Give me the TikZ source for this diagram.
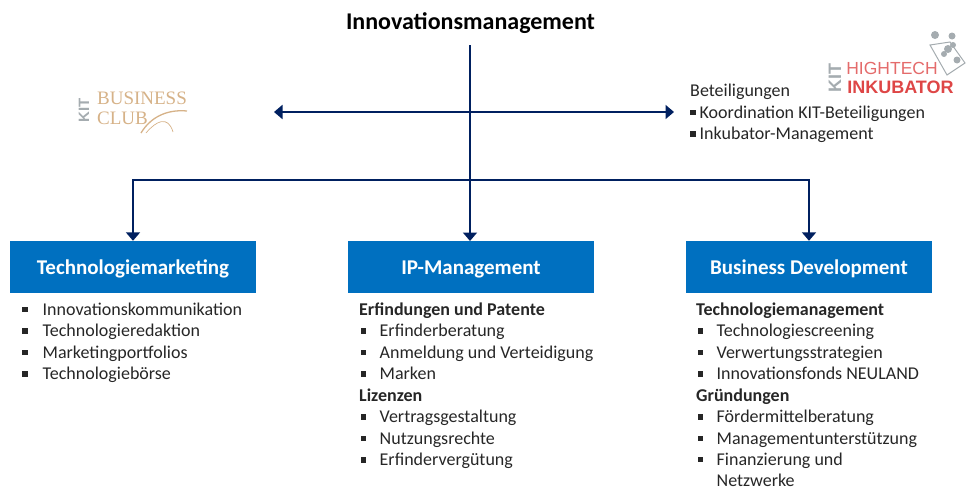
\documentclass[tikz,border=0pt]{standalone}
\usepackage{fontspec}
\setmainfont{Carlito}
\newfontfamily\logoserif{Liberation Serif}
\newfontfamily\logosans{Liberation Sans}
\usetikzlibrary{positioning, arrows.meta}
\definecolor{kitblue}{RGB}{0,112,192}
\definecolor{linkblue}{RGB}{0,32,96}
\definecolor{clubtan}{RGB}{214,178,136}
\definecolor{logogray}{RGB}{165,172,176}
\definecolor{logored}{RGB}{222,70,70}
\newcommand{\itm}{\makebox[20.5pt][l]{\rule[3pt]{5.5pt}{5.5pt}}}
\newcommand{\sub}{\hspace*{1.5pt}\makebox[19pt][l]{\rule[3pt]{5.5pt}{5.5pt}}}
\newcommand{\tight}{\fontsize{18}{21.45}\selectfont}
\tikzset{
	x=1pt, y=-1pt,
	head/.style={fill=kitblue, text=white, minimum width=246pt, minimum height=52pt, inner sep=0pt, text height=15pt, text depth=1pt, font=\fontsize{21}{25}\selectfont\bfseries},
	items/.style={align=left, anchor=north west, inner sep=0pt, text=black!85, font=\tight},
	link/.style={draw=linkblue, line width=1.8pt},
	tip/.style={-{Triangle[length=8.5pt,width=14pt]}}
}
\begin{document}
\begin{tikzpicture}
		\useasboundingbox (0,0) rectangle (966,488);
		\node[font=\fontsize{24}{28}\selectfont\bfseries] (title) at (470.5,23.5) {Innovationsmanagement};
		\node[head] (tm) at (133,267) {Technologiemarketing};
		\node[head] (ip) at (471,267) {IP-Management};
		\node[head] (bd) at (809,267) {Business Development};
		% lists under the boxes
		\node[items] (tmlist) at (22,302.5) {\itm Innovationskommunikation\\\itm Technologieredaktion\\\itm Marketingportfolios\\\itm Technologiebörse};
		\node[items] (iplist) at (359,302.5) {\textbf{Erfindungen und Patente}\\\sub Erfinderberatung\\\sub Anmeldung und Verteidigung\\\sub Marken\\\textbf{Lizenzen}\\\sub Vertragsgestaltung\\\sub Nutzungsrechte\\\sub Erfindervergütung};
		\node[items] (bdlist) at (696,302.5) {\textbf{Technologiemanagement}\\\sub Technologiescreening\\\sub Verwertungsstrategien\\\sub Innovationsfonds NEULAND\\\textbf{Gründungen}\\\sub Fördermittelberatung\\\sub Managementunterstützung\\\sub Finanzierung und\\\hspace*{20.5pt}Netzwerke};
		\node[items] (beteil) at (690,84) {Beteiligungen\\\rule[3pt]{5.5pt}{5.5pt}\hspace{4pt}Koordination KIT-Beteiligungen\\\rule[3pt]{5.5pt}{5.5pt}\hspace{4pt}Inkubator-Management};
		% logos
		\node[text=clubtan, align=left, inner sep=0pt, font=\logoserif\fontsize{19}{20}\selectfont] (club) at (142,108.5) {BUSINESS\\CLUB};
		\node[text=logogray, rotate=90, inner sep=0pt, font=\logosans\bfseries\fontsize{15}{15}\selectfont] (clubkit) at (84,110) {KIT};
		\draw[clubtan, line width=1.3pt] (141,133) .. controls (150,118) and (166,109) .. (187,111);
		\draw[clubtan, line width=.7pt] (146,133) .. controls (156,121) and (168,115) .. (173,132);
		\node[text=logored!80, inner sep=0pt, font=\logosans\fontsize{17.5}{18}\selectfont] (high) at (892,68) {HIGHTECH};
		\node[text=logored, inner sep=0pt, font=\logosans\bfseries\fontsize{18}{18}\selectfont] (inku) at (900.5,87) {INKUBATOR};
		\node[text=logogray, rotate=90, inner sep=0pt, font=\logosans\bfseries\fontsize{18}{18}\selectfont] (inkit) at (835,78) {KIT};
		\draw[logogray, line width=1pt] (930,45) -- (950,42) -- (965,63) -- (947,75) -- cycle;
		\foreach \px/\py/\pr in {935/35/4, 952/36/3.5, 948/49/4, 953/45/3, 944/54/3, 957/60/3.5}
			\fill[logogray] (\px,\py) circle (\pr pt);
		% connectors
		\coordinate (stem) at (470,45);
		\coordinate (ipin) at (470,241);
		\coordinate (leftend) at (274,112);
		\coordinate (rightend) at (674,112);
		\coordinate (split) at (470,180);
		\draw[link, tip] (stem) -- (ipin);
		\draw[link, {Triangle[length=8.5pt,width=14pt]}-{Triangle[length=8.5pt,width=14pt]}] (leftend) -- (rightend);
		\draw[link, tip] (split) -| (tm.north);
		\draw[link, tip] (split) -| (bd.north);
	\end{tikzpicture}
\end{document}
